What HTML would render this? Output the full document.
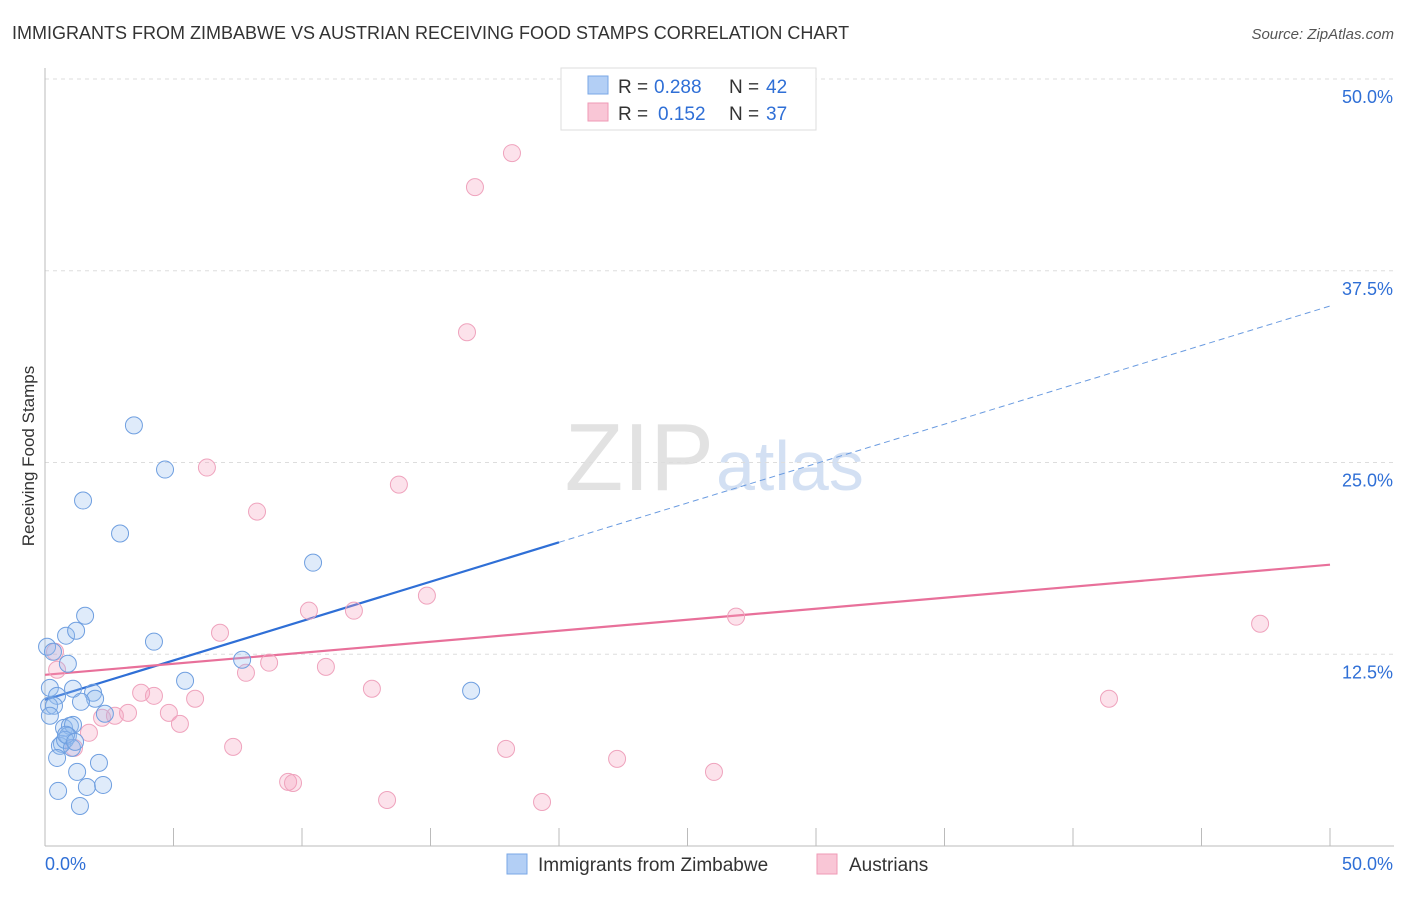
<!DOCTYPE html>
<html><head><meta charset="utf-8"><style>
body{margin:0;background:#fff;font-family:"Liberation Sans",sans-serif;}
svg text{font-family:"Liberation Sans",sans-serif;}
</style></head><body>
<svg id="chart" width="1406" height="892">
<text x="12" y="39" font-size="18" fill="#333">IMMIGRANTS FROM ZIMBABWE VS AUSTRIAN RECEIVING FOOD STAMPS CORRELATION CHART</text>
<text x="1394" y="39" font-size="15" fill="#555" font-style="italic" text-anchor="end">Source: ZipAtlas.com</text>
<text x="34" y="456" font-size="17" fill="#333" text-anchor="middle" transform="rotate(-90 34 456)">Receiving Food Stamps</text>
<text x="714" y="490" font-size="96" fill="#e2e2e2" text-anchor="end" font-family="Liberation Serif">ZIP</text>
<text x="716" y="490" font-size="70" fill="#d3e0f3">atlas</text>
<g id="grid"></g><g id="axes"></g><g id="trends"></g><g id="pts"></g>
<g>
<rect x="561" y="68" width="255" height="62" fill="#fff" stroke="#ddd"/>
<rect x="588" y="76" width="20" height="18" fill="#b3cff5" stroke="#7aa7e6"/>
<text x="618" y="93" font-size="19" fill="#333">R =</text>
<text x="654" y="93" font-size="19" fill="#2f6fd6">0.288</text>
<text x="729" y="93" font-size="19" fill="#333">N =</text>
<text x="766" y="93" font-size="19" fill="#2f6fd6">42</text>
<rect x="588" y="103" width="20" height="18" fill="#f9c6d6" stroke="#ef9ab6"/>
<text x="618" y="120" font-size="19" fill="#333">R =</text>
<text x="658" y="120" font-size="19" fill="#2f6fd6">0.152</text>
<text x="729" y="120" font-size="19" fill="#333">N =</text>
<text x="766" y="120" font-size="19" fill="#2f6fd6">37</text>
</g>
<g>
<rect x="507" y="854" width="20" height="20" fill="#b3cff5" stroke="#7aa7e6"/>
<text x="538" y="871" font-size="19" fill="#333">Immigrants from Zimbabwe</text>
<rect x="817" y="854" width="20" height="20" fill="#f9c6d6" stroke="#ef9ab6"/>
<text x="849" y="871" font-size="19" fill="#333">Austrians</text>
</g>
</svg>
<script>
const blueX=[.08,.31,.19,.47,.16,.35,.19,.82,1.21,1.56,.89,1.09,1.87,1.95,1.40,2.33,.74,.97,1.09,.66,.58,.89,.78,1.05,.47,1.25,2.10,.51,1.63,2.26,1.36,3.46,4.67,1.48,2.92,4.24,5.45,7.67,10.43,16.58,.82,1.17];
const blueY=[12.99,12.66,10.31,9.79,9.14,9.14,8.49,13.71,14.03,15.01,11.88,10.25,9.99,9.60,9.40,8.62,7.70,7.83,7.90,6.66,6.53,7.18,6.92,6.40,5.74,4.83,5.42,3.59,3.85,3.98,2.61,27.42,24.54,22.52,20.37,13.32,10.77,12.14,18.47,10.12,7.25,6.79];
const pinkX=[18.17,16.73,16.42,6.30,8.25,13.77,14.86,10.27,12.02,6.81,8.72,10.93,7.82,12.72,3.74,4.24,5.84,4.82,5.25,3.23,2.72,2.22,1.71,1.13,7.32,17.94,22.26,26.03,9.46,9.65,13.31,19.34,26.89,47.28,41.40,.39,.47];
const pinkY=[45.17,42.95,33.49,24.67,21.80,23.56,16.32,15.34,15.34,13.90,11.95,11.68,11.29,10.25,9.99,9.79,9.60,8.68,7.96,8.68,8.49,8.36,7.38,6.40,6.46,6.33,5.68,4.83,4.18,4.11,3.00,2.87,14.95,14.49,9.60,12.66,11.49];
const yTicks=[12.5,25,37.5,50];
const yTickLabels=["12.5%","25.0%","37.5%","50.0%"];
const blueTrend=[9.53,35.2];
const blueSolidEnd=20;
const pinkTrend=[11.16,18.34];
const NS="http://www.w3.org/2000/svg";
const sx=v=>45+v/50*1285, sy=v=>846-v/50*767;
function mk(tag,attrs,parent){const e=document.createElementNS(NS,tag);for(const k in attrs)e.setAttribute(k,attrs[k]);document.getElementById(parent).appendChild(e);return e;}
yTicks.forEach((t,i)=>{
 const g=mk('line',{x1:45,x2:1394,y1:sy(t),y2:sy(t),stroke:'#ddd','stroke-dasharray':'4,4'},'grid');
 
 
 const l=mk('text',{x:1393,y:sy(t)+24,'font-size':18,fill:'#2f6fd6','text-anchor':'end'},'grid');
 l.textContent=yTickLabels[i];
 
 
});
const xa=mk('line',{x1:45,x2:1394,y1:846,y2:846,stroke:'#bbb'},'axes');


const ya=mk('line',{x1:45,x2:45,y1:68,y2:846,stroke:'#bbb'},'axes');


for(let i=0;i<=10;i++){const t=mk('line',{x1:sx(i*5),x2:sx(i*5),y1:828,y2:846,stroke:'#bbb'},'axes');
 
 }
[["0.0%",45,'start'],["50.0%",1393,'end']].forEach(a=>{const t=mk('text',{x:a[1],y:870,'font-size':18,fill:'#2f6fd6','text-anchor':a[2]},'axes');t.textContent=a[0];
 
 });
const by=x=>blueTrend[0]+(blueTrend[1]-blueTrend[0])*x/50;
const t1=mk('line',{x1:sx(0),y1:sy(by(0)),x2:sx(blueSolidEnd),y2:sy(by(blueSolidEnd)),stroke:'#2f6fd6','stroke-width':2.2},'trends');


const t2=mk('line',{x1:sx(blueSolidEnd),y1:sy(by(blueSolidEnd)),x2:sx(50),y2:sy(by(50)),stroke:'#6a9be0','stroke-width':1,'stroke-dasharray':'6,4'},'trends');


const t3=mk('line',{x1:sx(0),y1:sy(pinkTrend[0]),x2:sx(50),y2:sy(pinkTrend[1]),stroke:'#e8709a','stroke-width':2.2},'trends');


pinkX.forEach((x,i)=>{const c=mk('circle',{cx:sx(x),cy:sy(pinkY[i]),r:8.5,fill:'rgba(244,160,188,0.3)',stroke:'#efa3bd','stroke-width':1},'pts');
 
 });
blueX.forEach((x,i)=>{const c=mk('circle',{cx:sx(x),cy:sy(blueY[i]),r:8.5,fill:'rgba(150,190,240,0.3)',stroke:'#6f9fe0','stroke-width':1},'pts');
 
 });
</script>
</body></html>
